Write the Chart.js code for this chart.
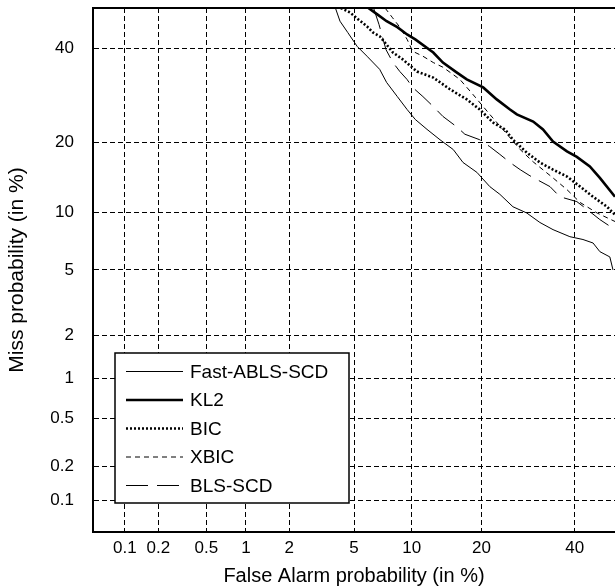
<!DOCTYPE html>
<html><head><meta charset="utf-8">
<script src="https://cdn.jsdelivr.net/npm/chart.js@4/dist/chart.umd.min.js"></script>
<style>html,body{margin:0;padding:0;background:#fff}#wrap{width:615px;height:588px}</style>
</head><body><div id="wrap"><canvas id="c" width="615" height="588"></canvas></div>
<script>
// ---- data (percent) ----
const tickLabels = [0.1, 0.2, 0.5, 1, 2, 5, 10, 20, 40];
const axisRange = [0.05, 50];
const seriesNames = ['Fast-ABLS-SCD', 'KL2', 'BIC', 'XBIC', 'BLS-SCD'];

const fastFA   = [3.9, 4.15, 4.6, 5.2, 5.9, 6.9, 7.5, 8.5, 9.5, 10.4, 11.8, 13.5, 15.4, 16.9, 19.2, 21.5, 23.4, 26.0, 28.9, 31.8, 34.8, 38.8, 42.0, 44.5, 46.2, 48.7, 49.5];
const fastMiss = [50, 46.7, 43.9, 40.5, 38.1, 35.0, 32.0, 28.9, 26.2, 24.2, 22.3, 20.4, 18.7, 16.6, 15.1, 13.1, 12.1, 10.6, 9.9, 8.9, 8.2, 7.55, 7.3, 7.0, 6.3, 5.9, 5.0];

const kl2FA    = [6.0, 6.7, 7.5, 8.5, 9.5, 10.4, 12.6, 13.9, 15.9, 17.5, 20.3, 22.8, 25.4, 26.8, 30.3, 32.5, 34.8, 38.1, 40.5, 43.7, 46.2, 50];
const kl2Miss  = [50, 48.4, 46.7, 45.2, 43.4, 42.2, 39.0, 36.6, 34.3, 32.7, 30.9, 28.3, 26.2, 25.2, 23.8, 22.3, 20.1, 18.4, 17.5, 16.0, 14.3, 11.8];

const bicFA    = [4.2, 4.74, 5.26, 5.9, 6.35, 6.92, 8.08, 9.07, 10.6, 12.6, 14.9, 17.5, 19.7, 22.1, 24.4, 26.0, 28.9, 31.8, 34.8, 38.1, 41.3, 44.5, 48.0, 50];
const bicMiss  = [50, 48.9, 47.2, 45.4, 43.9, 42.9, 39.0, 37.3, 34.5, 33.1, 30.5, 28.3, 26.2, 23.6, 22.3, 20.4, 18.2, 16.6, 15.5, 14.5, 13.1, 11.8, 10.6, 9.7];

const xbicFA   = [7.36, 8.0, 8.75, 9.5, 10.1, 11.3, 12.6, 13.9, 16.4, 18.5, 21.5, 24.8, 27.5, 30.3, 34.8, 38.1, 41.3, 45.5, 50];
const xbicMiss = [50, 47.7, 45.2, 42.2, 39.3, 38.1, 36.6, 35.5, 32.7, 29.4, 25.2, 21.4, 18.7, 16.7, 14.3, 12.7, 11.1, 9.9, 9.0];

const blsFA    = [6.4, 6.84, 7.44, 8.08, 8.75, 9.49, 10.1, 11.3, 12.6, 13.9, 15.9, 17.2, 19.7, 21.5, 23.4, 25.4, 27.5, 29.6, 34.1, 36.4, 40.5, 43.0, 46.2, 50];
const blsMiss  = [50, 45.9, 39.7, 36.6, 34.5, 32.7, 30.9, 28.9, 26.8, 24.8, 22.8, 21.4, 20.4, 19.2, 17.9, 16.6, 15.5, 14.6, 13.1, 11.8, 11.2, 10.3, 9.2, 8.2];

// ---- normal deviate (probit) transform for DET axes ----
function probit(p){
  const a=[-3.969683028665376e+01,2.209460984245205e+02,-2.759285104469687e+02,1.383577518672690e+02,-3.066479806614716e+01,2.506628277459239e+00];
  const b=[-5.447609879822406e+01,1.615858368580409e+02,-1.556989798598866e+02,6.680131188771972e+01,-1.328068155288572e+01];
  const c=[-7.784894002430293e-03,-3.223964580411365e-01,-2.400758277161838e+00,-2.549732539343734e+00,4.374664141464968e+00,2.938163982698783e+00];
  const d=[7.784695709041462e-03,3.224671290700398e-01,2.445134137142996e+00,3.754408661907416e+00];
  const pl=0.02425, ph=1-pl; let q,r;
  if(p<pl){q=Math.sqrt(-2*Math.log(p));return (((((c[0]*q+c[1])*q+c[2])*q+c[3])*q+c[4])*q+c[5])/((((d[0]*q+d[1])*q+d[2])*q+d[3])*q+1);}
  if(p<=ph){q=p-0.5;r=q*q;return (((((a[0]*r+a[1])*r+a[2])*r+a[3])*r+a[4])*r+a[5])*q/(((((b[0]*r+b[1])*r+b[2])*r+b[3])*r+b[4])*r+1);}
  q=Math.sqrt(-2*Math.log(1-p));return -(((((c[0]*q+c[1])*q+c[2])*q+c[3])*q+c[4])*q+c[5])/((((d[0]*q+d[1])*q+d[2])*q+d[3])*q+1);
}
const pr = v => probit(v / 100);
const toPts = (fa, miss) => fa.map((v, i) => ({x: pr(v), y: pr(miss[i])}));

const FONT = '"Liberation Sans", Arial, sans-serif';
const styles = [
  {borderWidth: 1,   borderDash: []},
  {borderWidth: 2.6, borderDash: []},
  {borderWidth: 2.6, borderDash: [2, 2]},
  {borderWidth: 1,   borderDash: [5, 4]},
  {borderWidth: 1,   borderDash: [22, 9]}
];
const seriesData = [[fastFA, fastMiss], [kl2FA, kl2Miss], [bicFA, bicMiss], [xbicFA, xbicMiss], [blsFA, blsMiss]];

const datasets = seriesNames.map((n, i) => ({
  label: n,
  data: toPts(seriesData[i][0], seriesData[i][1]),
  showLine: true, pointRadius: 0, tension: 0,
  borderColor: '#000', backgroundColor: '#000',
  borderWidth: styles[i].borderWidth, borderDash: styles[i].borderDash,
  clip: 0
}));

const frame = {
  id: 'frame',
  afterDraw(chart){
    const ctx = chart.ctx, a = chart.chartArea;
    ctx.save();
    ctx.strokeStyle = '#000'; ctx.lineWidth = 2;
    ctx.beginPath(); ctx.moveTo(a.left, a.top); ctx.lineTo(a.right, a.top); ctx.stroke();
    // legend box
    const bx = a.left + 22, by = a.top + 345, bw = 234, bh = 150;
    ctx.fillStyle = '#fff'; ctx.fillRect(bx, by, bw, bh);
    ctx.lineWidth = 1.5; ctx.strokeRect(bx, by, bw, bh);
    chart.data.datasets.forEach((ds, i) => {
      const y = by + 18.5 + i * 28.5;
      ctx.lineWidth = ds.borderWidth; ctx.setLineDash(ds.borderDash);
      ctx.beginPath(); ctx.moveTo(bx + 11, y); ctx.lineTo(bx + 68, y); ctx.stroke();
      ctx.setLineDash([]);
      ctx.fillStyle = '#000'; ctx.font = '19px ' + FONT; ctx.textBaseline = 'middle'; ctx.textAlign = 'left';
      ctx.fillText(ds.label, bx + 75, y + 1);
    });
    ctx.restore();
  }
};

const axisCommon = (isX) => ({
  type: 'linear',
  min: pr(axisRange[0]), max: pr(axisRange[1]),
  afterBuildTicks: s => { s.ticks = tickLabels.map(v => ({value: pr(v)})); },
  afterFit: s => {
    if (isX) s.height = 56; else s.width = 93;
    s.paddingTop = 0; s.paddingBottom = 0; s.paddingLeft = 0; s.paddingRight = 0;
  },
  ticks: {
    autoSkip: false, maxRotation: 0, minRotation: 0,
    padding: isX ? 6 : 19,
    color: '#000', font: {family: FONT, size: 17},
    callback: (v, i) => String(tickLabels[i])
  },
  grid: {color: '#000', lineWidth: 1, drawTicks: false},
  border: {display: true, color: '#000', width: 2, dash: [5, 3]},
  title: {
    display: true,
    text: isX ? 'False Alarm probability (in %)' : 'Miss probability (in %)',
    color: '#000', font: {family: FONT, size: isX ? 20 : 21},
    padding: isX ? {top: 0, bottom: 0} : {top: 5, bottom: 0}
  }
});

new Chart(document.getElementById('c'), {
  type: 'scatter',
  data: {datasets},
  options: {
    responsive: false, animation: false, devicePixelRatio: 1,
    layout: {padding: {top: 8, right: 0, left: 0, bottom: 0}},
    plugins: {legend: {display: false}, tooltip: {enabled: false}},
    scales: {x: axisCommon(true), y: axisCommon(false)}
  },
  plugins: [frame]
});
</script></body></html>
